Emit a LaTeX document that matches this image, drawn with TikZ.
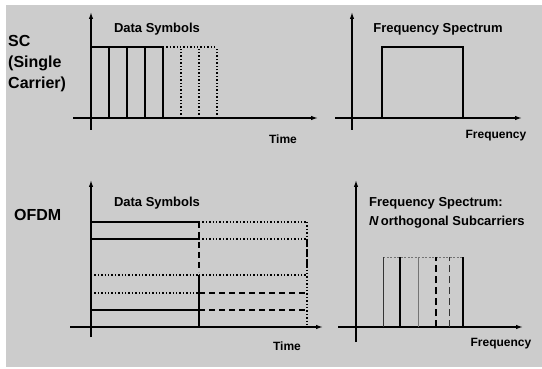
\documentclass[tikz,border=0pt]{standalone}
\usepackage{fontspec}
\setmainfont{Liberation Sans}
\usetikzlibrary{arrows.meta}
\begin{document}
\begin{tikzpicture}[x=1pt,y=-1pt,
  axis/.style={line width=1.3pt,-{Latex[length=7pt,width=4.5pt]}},
  sig/.style={line width=1.1pt},
  dots/.style={line width=1.1pt,dash pattern=on 1.4pt off 2pt},
  dsh/.style={line width=1.2pt,dash pattern=on 6pt off 4pt},
  lbl/.style={font=\fontsize{13}{15}\selectfont\bfseries,inner sep=0pt},
  axl/.style={font=\fontsize{12}{14}\selectfont\bfseries,inner sep=0pt},
  big/.style={font=\fontsize{16}{21}\selectfont\bfseries,inner sep=0pt,align=left}]
\useasboundingbox (0,0) rectangle (542,369);
\fill[white] (0,0) rectangle (542,369);
\fill[black!20] (6,5) rectangle (542,367);

% ---------- top left: SC in time ----------
\coordinate (a1s) at (91,130); \coordinate (a1e) at (91,12);
\coordinate (h1s) at (73,118); \coordinate (h1e) at (318,118);
\draw[axis] (a1s) -- (a1e);
\draw[axis] (h1s) -- (h1e);
\foreach \x in {109,127,145,163} \draw[sig] (\x,118) -- (\x,47);
\foreach \x in {181,199,217} \draw[dots] (\x,118) -- (\x,47);
\draw[sig] (91,47) -- (163,47);
\draw[dots] (163,47) -- (217,47);
\node[lbl] (ds1) at (157,29) {Data Symbols};
\node[axl] (t1) at (283,139) {Time};
\node[big,anchor=west] (sc) at (8,64) {SC\\(Single\\Carrier)};

% ---------- top right: SC spectrum ----------
\coordinate (a2s) at (352,130); \coordinate (a2e) at (352,12);
\coordinate (h2s) at (335,118); \coordinate (h2e) at (522,118);
\draw[axis] (a2s) -- (a2e);
\draw[axis] (h2s) -- (h2e);
\draw[sig] (382,118) -- (382,47) -- (463,47) -- (463,118);
\node[lbl] (fs1) at (438,29) {Frequency Spectrum};
\node[axl] (f1) at (496,136) {Frequency};

% ---------- bottom left: OFDM in time ----------
\coordinate (a3s) at (91,337); \coordinate (a3e) at (91,180);
\coordinate (h3s) at (70,327); \coordinate (h3e) at (323,327);
\draw[axis] (a3s) -- (a3e);
\draw[axis] (h3s) -- (h3e);
\draw[sig] (91,222) -- (199,222);
\draw[sig] (91,239) -- (199,239);
\draw[dots] (91,275) -- (199,275);
\draw[dots] (91,293) -- (199,293);
\draw[sig] (91,310) -- (199,310);
\draw[dots] (199,222) -- (307,222);
\draw[dots] (199,239) -- (307,239);
\draw[dots] (199,275) -- (307,275);
\draw[dsh] (199,293) -- (307,293);
\draw[dsh] (199,310) -- (307,310);
\draw[dsh] (199,222) -- (199,272);
\draw[sig] (199,275) -- (199,327);
\draw[dots] (307,222) -- (307,327);
\draw[dsh] (307,240) -- (307,266);
\node[lbl] (ds2) at (157,203) {Data Symbols};
\node[axl] (t2) at (287,346) {Time};
\node[big,anchor=west] (ofdm) at (14,215) {OFDM};

% ---------- bottom right: OFDM spectrum ----------
\coordinate (a4s) at (356,342); \coordinate (a4e) at (356,180);
\coordinate (h4s) at (338,327); \coordinate (h4e) at (523,327);
\draw[axis] (a4s) -- (a4e);
\draw[axis] (h4s) -- (h4e);
\draw[line width=0.9pt,black!55,dash pattern=on 2pt off 1.5pt] (383,257) -- (463,257);
\draw[line width=1pt,black!80] (383,327) -- (383,257);
\draw[sig] (400,327) -- (400,257);
\draw[line width=0.9pt,black!55] (418,327) -- (418,257);
\draw[dsh,dash pattern=on 7pt off 4pt] (436,327) -- (436,257);
\draw[line width=0.9pt,dash pattern=on 7pt off 4pt,black!80] (449,327) -- (449,257);
\draw[sig] (463,327) -- (463,257);
\node[lbl,anchor=west] (fs2) at (369,203) {Frequency Spectrum:};
\node[lbl,anchor=west] (no2) at (369,222) {\textit{N}\,orthogonal Subcarriers};
\node[axl] (f2) at (501,344) {Frequency};
\end{tikzpicture}
\end{document}
